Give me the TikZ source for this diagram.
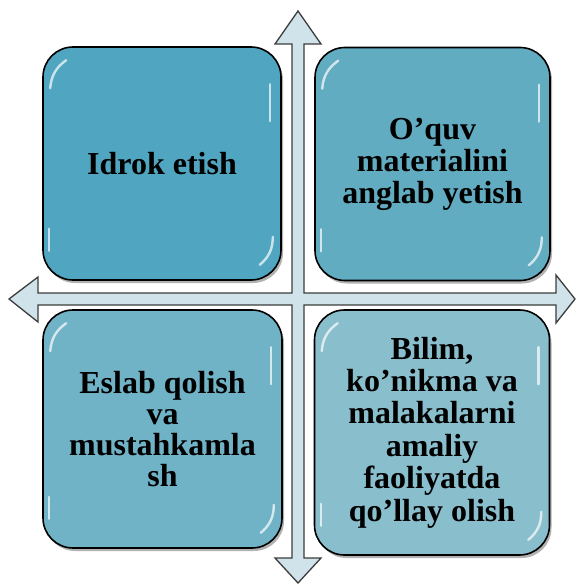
\documentclass[tikz,border=0pt]{standalone}
\usepackage{fontspec}
\setmainfont{Liberation Serif}
\usetikzlibrary{shadows}
\definecolor{boxA}{HTML}{50A6C0}
\definecolor{boxB}{HTML}{62ACC1}
\definecolor{boxC}{HTML}{70B2C6}
\definecolor{boxD}{HTML}{89BECD}
\definecolor{arrowfill}{HTML}{D0E3EA}
\definecolor{arrowline}{HTML}{3C3C3C}
\begin{document}
\begin{tikzpicture}[x=1pt,y=-1pt,
  quad/.style={draw=black, line width=1.6pt, rounded corners=30pt, align=center,
    font=\fontsize{32}{32}\selectfont\bfseries, inner sep=0pt,
    drop shadow={shadow xshift=2pt, shadow yshift=-3pt, opacity=0.3, fill=black}},
  gloss/.style={draw=white, line width=2.4pt, line cap=round, opacity=0.7},
  cross/.style={fill=arrowfill, draw=arrowline, line width=1.3pt, line join=miter}]
\useasboundingbox (0,0) rectangle (575,585);

% four-way arrow
\draw[cross] (298,11) -- (321,44) -- (304,44) -- (304,293) -- (556,293) -- (556,275)
  -- (575,299) -- (556,323) -- (556,305) -- (304,305) -- (304,558) -- (321,558)
  -- (298,583) -- (275,558) -- (292,558) -- (292,305) -- (38,305) -- (38,322)
  -- (9,299) -- (38,277) -- (38,293) -- (292,293) -- (292,44) -- (275,44) -- cycle;

% boxes
\node[quad, fill=boxA, minimum width=238pt, minimum height=233pt] (tl) at (162,163.5)
  {Idrok etish};
\node[quad, fill=boxB, minimum width=235pt, minimum height=233pt] (tr) at (432.5,164)
  {O’quv\\materialini\\anglab yetish};
\node[quad, fill=boxC, minimum width=239pt, minimum height=238pt,
  font=\fontsize{32}{31}\selectfont\bfseries] (bl) at (162.5,429)
  {Eslab qolish\\va\\mustahkamla\\sh};
\node[quad, fill=boxD, minimum width=235pt, minimum height=245pt,
  font=\fontsize{32}{32.4}\selectfont\bfseries] (br) at (432,432.5)
  {Bilim,\\ko’nikma va\\malakalarni\\amaliy\\faoliyatda\\qo’llay olish};

% glossy highlights
\foreach \n in {tl,tr,bl,br} {
  \draw[gloss] ([shift={(8,42)}]\n.north west) to[bend left=25] ([shift={(24,14)}]\n.north west);
  \draw[gloss] ([shift={(-12,38)}]\n.north east) -- ([shift={(-12,75)}]\n.north east);
  \draw[gloss] ([shift={(-9,-44)}]\n.south east) to[bend left=25] ([shift={(-22,-16)}]\n.south east);
  \draw[gloss] ([shift={(7,-52)}]\n.south west) -- ([shift={(7,-30)}]\n.south west);
}
\end{tikzpicture}
\end{document}
